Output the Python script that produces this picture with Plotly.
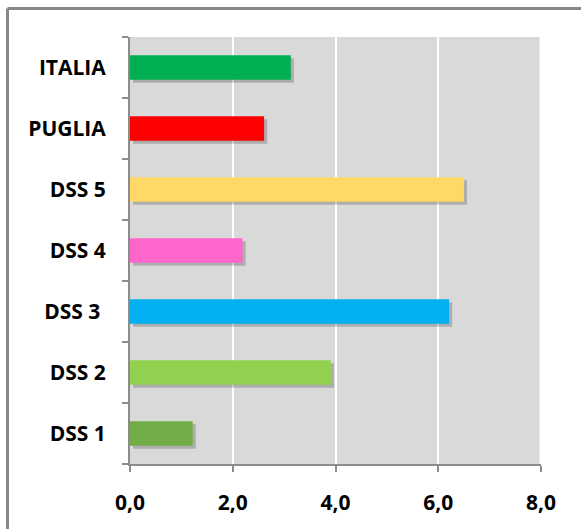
import plotly.graph_objects as go

categories = ["DSS 1", "DSS 2", "DSS 3 ", "DSS 4", "DSS 5", "PUGLIA", "ITALIA"]
values = [1.22, 3.91, 6.21, 2.19, 6.50, 2.61, 3.13]
colors = ["#70AD47", "#92D050", "#00B0F0", "#FF66CC", "#FFD966", "#FF0000", "#00B050"]
x_ticks = [0, 2, 4, 6, 8]
x_tick_labels = ["0,0", "2,0", "4,0", "6,0", "8,0"]

W = 0.4
fig = go.Figure()
# soft shadow
fig.add_trace(go.Bar(
    y=categories, x=values, base=0.06, orientation="h",
    width=W, offset=-W / 2 - 0.05,
    marker=dict(color="rgba(0,0,0,0.2)", line=dict(width=0)),
    hoverinfo="skip", showlegend=False,
))
fig.add_trace(go.Bar(
    y=categories, x=values, orientation="h",
    width=W, offset=-W / 2,
    marker=dict(color=colors, line=dict(width=0)),
    showlegend=False,
))

FONT = dict(family="Open Sans", size=21, color="black", weight="bold")

fig.update_layout(
    width=581, height=529,
    margin=dict(l=130, r=40, t=37, b=65, autoexpand=False),
    paper_bgcolor="white",
    plot_bgcolor="#D9D9D9",
    barmode="overlay",
    font=dict(family="Open Sans", size=16, color="black"),
    xaxis=dict(
        range=[0, 8], tickvals=x_ticks, ticktext=x_tick_labels,
        showgrid=True, gridcolor="white", gridwidth=2,
        showline=True, linecolor="#8C8C8C", linewidth=2,
        ticks="outside", ticklen=6, tickcolor="#8C8C8C", tickwidth=2,
        tickfont=FONT,
        ticklabelstandoff=13,
        zeroline=False, fixedrange=True, automargin=False,
    ),
    yaxis=dict(
        categoryorder="array", categoryarray=categories,
        range=[-0.5, 6.5],
        showline=True, linecolor="#8C8C8C", linewidth=2,
        ticks="outside", ticklen=6, tickcolor="#8C8C8C", tickwidth=2,
        tickson="boundaries",
        tickfont=FONT,
        ticklabelstandoff=18,
        showgrid=False, zeroline=False, fixedrange=True, automargin=False,
    ),
    shapes=[
        dict(type="line", xref="paper", yref="paper",
             x0=-(130 - 7.5) / 411, x1=1.3, y0=1 + (37 - 8.5) / 427, y1=1 + (37 - 8.5) / 427,
             line=dict(color="#888888", width=3)),
        dict(type="line", xref="paper", yref="paper",
             x0=-(130 - 7.5) / 411, x1=-(130 - 7.5) / 411, y0=1 + (37 - 8.5) / 427, y1=-0.3,
             line=dict(color="#888888", width=3)),
        dict(type="line", xref="x", yref="paper",
             x0=8, x1=8, y0=0, y1=1,
             line=dict(color="white", width=3)),
    ],
)

fig.write_html("out.html", config={"displayModeBar": False},
               post_script="document.body.style.margin='0';document.body.style.padding='0';")
